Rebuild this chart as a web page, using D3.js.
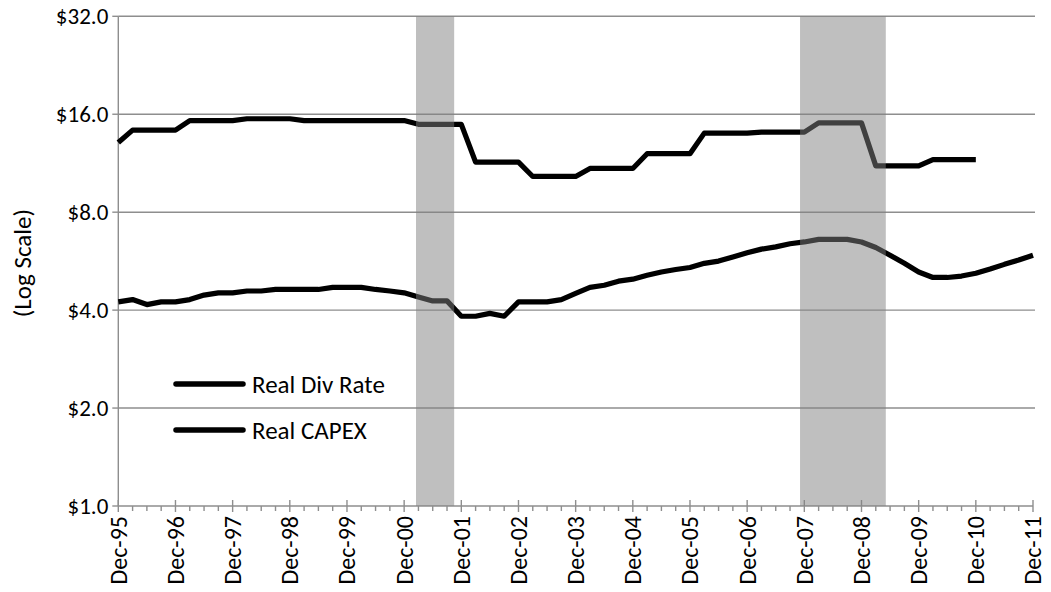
<!DOCTYPE html>
<html>
<head>
<meta charset="utf-8">
<script src="https://cdn.jsdelivr.net/npm/d3@7"></script>
<style>
  html, body { margin: 0; padding: 0; background: #fff; }
  svg { display: block; }
  text { font-family: Carlito, Lato, "Open Sans", sans-serif; fill: #000; }
</style>
</head>
<body>
<svg id="chart" width="1051" height="592"></svg>
<script>
// Quarterly categories, Dec-95 through Dec-11 (65 quarters)
const categories = d3.range(65).map(i => d3.timeMonth.offset(new Date(1995, 11, 1), i * 3));

// Real dividend rate, Dec-95 .. Dec-10
const realDivRate = [
  13.1, 14.3, 14.3, 14.3, 14.3, 15.3, 15.3, 15.3, 15.3, 15.5,
  15.5, 15.5, 15.5, 15.3, 15.3, 15.3, 15.3, 15.3, 15.3, 15.3,
  15.3, 14.9, 14.9, 14.9, 14.9, 11.4, 11.4, 11.4, 11.4, 10.3,
  10.3, 10.3, 10.3, 10.9, 10.9, 10.9, 10.9, 12.1, 12.1, 12.1,
  12.1, 14.0, 14.0, 14.0, 14.0, 14.1, 14.1, 14.1, 14.1, 15.05,
  15.05, 15.05, 15.05, 11.1, 11.1, 11.1, 11.1, 11.6, 11.6, 11.6,
  11.6
];

// Real capital expenditure, Dec-95 .. Dec-11
const realCapex = [
  4.24, 4.31, 4.16, 4.24, 4.24, 4.31, 4.45, 4.52, 4.52, 4.58,
  4.58, 4.63, 4.63, 4.63, 4.63, 4.70, 4.70, 4.70, 4.63, 4.58,
  4.52, 4.39, 4.27, 4.27, 3.83, 3.83, 3.91, 3.83, 4.24, 4.24,
  4.24, 4.31, 4.50, 4.70, 4.77, 4.91, 4.98, 5.12, 5.24, 5.33,
  5.41, 5.57, 5.66, 5.83, 6.00, 6.16, 6.26, 6.40, 6.48, 6.60,
  6.60, 6.60, 6.48, 6.23, 5.90, 5.57, 5.24, 5.04, 5.04, 5.09,
  5.19, 5.35, 5.53, 5.70, 5.90
];

// Recession periods, as positions on the quarter index
const recessions = [[20.83, 23.5], [47.7, 53.7]];

const yTicks = [1, 2, 4, 8, 16, 32];
const seriesNames = ["Real Div Rate", "Real CAPEX"];

const fmtCat = d3.timeFormat("%b-%y");
const fmtDollar = d => "$" + d3.format(".1f")(d);

const svg = d3.select("#chart");
const plot = { left: 118.3, right: 1033, top: 16.3, bottom: 506 };

const x = d3.scaleLinear().domain([0, categories.length - 1]).range([plot.left, plot.right]);
const y = d3.scaleLog().base(2).domain([1, 32]).range([plot.bottom, plot.top]);

const gridColor = "#8e8e8e";

// Horizontal gridlines
svg.append("g")
  .selectAll("line")
  .data(yTicks.filter(d => d > 1))
  .join("line")
  .attr("x1", plot.left).attr("x2", plot.right + 2)
  .attr("y1", d => y(d)).attr("y2", d => y(d))
  .attr("stroke", gridColor).attr("stroke-width", 1.4);

// Y axis: line, tick marks and dollar labels
const yg = svg.append("g");
yg.append("line")
  .attr("x1", plot.left).attr("x2", plot.left)
  .attr("y1", plot.top).attr("y2", plot.bottom)
  .attr("stroke", gridColor).attr("stroke-width", 1.4);
yg.selectAll("line.tick")
  .data(yTicks)
  .join("line").attr("class", "tick")
  .attr("x1", plot.left - 6).attr("x2", plot.left)
  .attr("y1", d => y(d)).attr("y2", d => y(d))
  .attr("stroke", gridColor).attr("stroke-width", 1.4);
yg.selectAll("text")
  .data(yTicks)
  .join("text")
  .attr("x", plot.left - 10)
  .attr("y", d => y(d))
  .attr("dy", "0.35em")
  .attr("text-anchor", "end")
  .style("font-size", "23px")
  .text(d => fmtDollar(d));

// Y axis title
svg.append("text")
  .attr("transform", `translate(22,${(plot.top + plot.bottom) / 2 + 2}) rotate(-90)`)
  .attr("text-anchor", "middle")
  .attr("dy", "0.35em")
  .style("font-size", "25px")
  .text("(Log Scale)");

// X axis: minor ticks each quarter, labelled ticks each December
const xg = svg.append("g");
xg.append("line")
  .attr("x1", plot.left).attr("x2", plot.right)
  .attr("y1", plot.bottom).attr("y2", plot.bottom)
  .attr("stroke", gridColor).attr("stroke-width", 1.4);
const allIdx = categories.map((d, i) => i);
xg.selectAll("line.minor")
  .data(allIdx.filter(i => i % 4 !== 0))
  .join("line").attr("class", "minor")
  .attr("x1", i => x(i)).attr("x2", i => x(i))
  .attr("y1", plot.bottom).attr("y2", plot.bottom + 5)
  .attr("stroke", gridColor).attr("stroke-width", 1.4);
const majorIdx = allIdx.filter(i => i % 4 === 0);
xg.selectAll("line.major")
  .data(majorIdx)
  .join("line").attr("class", "major")
  .attr("x1", i => x(i)).attr("x2", i => x(i))
  .attr("y1", plot.bottom - 6).attr("y2", plot.bottom + 6)
  .attr("stroke", gridColor).attr("stroke-width", 1.4);
xg.selectAll("text")
  .data(majorIdx)
  .join("text")
  .attr("transform", i => `translate(${x(i)},${plot.bottom + 10}) rotate(-90)`)
  .attr("text-anchor", "end")
  .attr("dy", "0.35em")
  .style("font-size", "24px")
  .text(i => fmtCat(categories[i]));

// Series lines
const line = d3.line().x((d, i) => x(i)).y(d => y(d));
[realDivRate, realCapex].forEach(series => {
  svg.append("path")
    .datum(series)
    .attr("d", line)
    .attr("fill", "none")
    .attr("stroke", "#000")
    .attr("stroke-width", 5.2)
    .attr("stroke-linejoin", "round");
});

// Recession shading, laid over the lines
svg.append("g")
  .selectAll("rect")
  .data(recessions)
  .join("rect")
  .attr("x", d => x(d[0]))
  .attr("width", d => x(d[1]) - x(d[0]))
  .attr("y", y(32))
  .attr("height", y(1) - y(32))
  .attr("fill", "#808080")
  .attr("fill-opacity", 0.5);

// Legend
const legend = svg.append("g");
seriesNames.forEach((name, k) => {
  const ly = 384 + k * 46;
  legend.append("line")
    .attr("x1", 176).attr("x2", 243)
    .attr("y1", ly).attr("y2", ly)
    .attr("stroke", "#000").attr("stroke-width", 5.5).attr("stroke-linecap", "round");
  legend.append("text")
    .attr("x", 252).attr("y", ly)
    .attr("dy", "0.35em")
    .style("font-size", "25px")
    .text(name);
});
</script>
</body>
</html>
